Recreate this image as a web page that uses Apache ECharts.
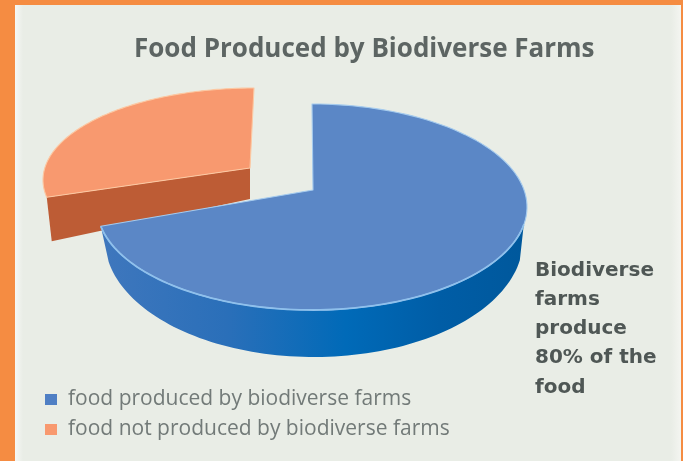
<!DOCTYPE html>
<html><head><meta charset="utf-8">
<script src="https://cdn.jsdelivr.net/npm/echarts@6/dist/echarts.min.js"></script>
<style>
html,body{margin:0;padding:0;background:#f58c42;overflow:hidden}
#c{width:683px;height:461px;filter:blur(0.7px)}
</style></head><body><div id="c"></div>
<script>
const titleText = 'Food Produced by Biodiverse Farms';
const categories = ['food produced by biodiverse farms', 'food not produced by biodiverse farms'];
const values = [72, 28];
const noteLines = ['Biodiverse', 'farms', 'produce', '80% of the', 'food'];

const total = values.reduce((a, b) => a + b, 0);
const toAngle = v => v / total * Math.PI * 2;

// projected geometry of each slab (perspective view of a 3D pie)
const views = [
  { apex: [313, 190], rim: { cx: 312, cy: 207, rx: 215, ry: 103 },
    low: { cx: 314, cy: 240, rx: 209, ry: 117 }, frontFrom: 100 * Math.PI / 180,
    top: '#5b87c6', edge: '#a5cbee',
    side: new echarts.graphic.LinearGradient(0, 0, 1, 0, [
      { offset: 0, color: '#3f77bd' }, { offset: 0.3, color: '#2a6fb9' },
      { offset: 0.58, color: '#006ab8' }, { offset: 0.8, color: '#005da6' }, { offset: 1, color: '#00589c' }]) },
  { apex: [250, 168], rim: { cx: 254, cy: 180, rx: 211, ry: 92 },
    apexDrop: [0, 31], rimDrop: [5, 44],
    top: '#f8996f', edge: '#fcc8a2', side: '#bd5c35' }
];

function pt(e, a) { return [e.cx + e.rx * Math.sin(a), e.cy - e.ry * Math.cos(a)]; }
function arc(e, a0, a1, n) {
  const out = [];
  for (let i = 0; i <= n; i++) out.push(pt(e, a0 + (a1 - a0) * i / n));
  return out;
}

function renderSlice(params, api) {
  const idx = params.seriesIndex === 0 ? 1 : 0;   // orange is painted first
  const v = api.value(0);
  const before = values.slice(0, idx).reduce((a, b) => a + b, 0);
  const a0 = toAngle(before), a1 = a0 + toAngle(v);
  const g = views[idx];
  const rimPts = arc(g.rim, a0, a1, 120);
  const children = [];
  if (idx === 0) {
    const front = arc(g.rim, g.frontFrom, a1, 90);
    const lower = arc(g.low, a1, g.frontFrom, 90);
    children.push({ type: 'polygon', shape: { points: front.concat(lower) }, style: { fill: g.side } });
  } else {
    const e = pt(g.rim, a0);
    children.push({ type: 'polygon',
      shape: { points: [e, g.apex, [g.apex[0] + g.apexDrop[0], g.apex[1] + g.apexDrop[1]], [e[0] + g.rimDrop[0], e[1] + g.rimDrop[1]]] },
      style: { fill: g.side } });
  }
  children.push({ type: 'polygon', shape: { points: [g.apex].concat(rimPts) },
    style: { fill: g.top, stroke: g.edge, lineWidth: 1.1, lineJoin: 'round' } });
  if (idx === 0) {
    children.push({ type: 'polyline', shape: { points: arc(g.rim, g.frontFrom, a1, 90) },
      style: { fill: 'none', stroke: '#8fc0ec', lineWidth: 1.8 } });
  }
  return { type: 'group', children };
}

const chart = echarts.init(document.getElementById('c'), null, { renderer: 'canvas' });
const textColor = '#5d6563';
chart.setOption({
  animation: false,
  backgroundColor: 'transparent',
  title: { text: titleText, left: 129, top: 32,
    textStyle: { fontFamily: 'Open Sans', fontWeight: 'bold', fontSize: 26, color: textColor } },
  legend: { orient: 'vertical', left: 40, top: 384, itemWidth: 12, itemHeight: 11, itemGap: 9, icon: 'rect',
    data: categories, selectedMode: false,
    textStyle: { fontFamily: 'Open Sans', fontSize: 21, color: '#727a78', padding: [0, 0, 0, 6] } },
  graphic: [
    { type: 'rect', silent: true, z: -10, shape: { x: 0, y: 0, width: 683, height: 461 }, style: { fill: '#f58c42' } },
    { type: 'rect', silent: true, z: -9, shape: { x: 15, y: 5, width: 666, height: 456 },
      style: { fill: new echarts.graphic.LinearGradient(0, 0, 1, 0, [
        { offset: 0, color: '#f6f8f5' }, { offset: 0.012, color: '#e9ede6' },
        { offset: 0.985, color: '#e9ede6' }, { offset: 1, color: '#f4f5f1' }]) } },
    { type: 'text', silent: true, z: 5, left: 535, top: 256,
      style: { text: noteLines.join('\n'), fontFamily: 'DejaVu Sans', fontWeight: 'bold', fontSize: 20, lineHeight: 29.2, fill: '#4f5755' } }
  ],
  series: [
    { type: 'custom', name: categories[1], coordinateSystem: 'none', renderItem: renderSlice,
      itemStyle: { color: '#f8996f' }, data: [[values[1]]], z: 2 },
    { type: 'custom', name: categories[0], coordinateSystem: 'none', renderItem: renderSlice,
      itemStyle: { color: '#4f7fc4' }, data: [[values[0]]], z: 3 }
  ]
});
</script></body></html>
